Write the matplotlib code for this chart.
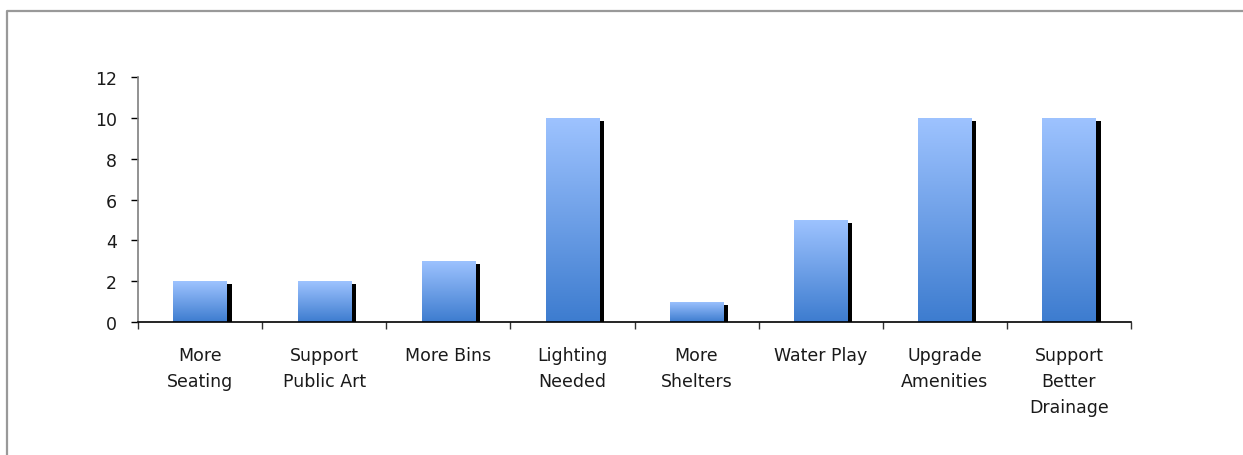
import numpy as np
import matplotlib
matplotlib.use("Agg")
import matplotlib.pyplot as plt
from matplotlib.lines import Line2D
from matplotlib.colors import LinearSegmentedColormap
import matplotlib.patheffects as pe

categories = ["More\nSeating", "Support\nPublic Art", "More Bins", "Lighting\nNeeded",
              "More\nShelters", "Water Play", "Upgrade\nAmenities", "Support\nBetter\nDrainage"]
values = [2, 2, 3, 10, 1, 5, 10, 10]
yticks = [0, 2, 4, 6, 8, 10, 12]

W, H, DPI = 1243, 456, 100
fig = plt.figure(figsize=(W / DPI, H / DPI), dpi=DPI)
fig.patch.set_facecolor("white")

# partial frame around the chart area
fig.add_artist(Line2D([6.5 / W, 6.5 / W, 1.0], [0.0, 1 - 11.5 / H, 1 - 11.5 / H],
                      transform=fig.transFigure, color="#999999", lw=1.6))

ax = fig.add_axes([138 / W, 1 - 323 / H, (1131 - 138) / W, (323 - 78) / H])
x = np.arange(len(categories))

grad_cmap = LinearSegmentedColormap.from_list("barfill", ["#3d7ccf", "#9ec3ff"])
grad = np.linspace(0, 1, 256).reshape(-1, 1)

bars = ax.bar(x, values, width=0.43, color="#6f9fe6", linewidth=0, zorder=2)
for b in bars:
    b.set_path_effects([pe.SimplePatchShadow(offset=(3.6, -2.2), shadow_rgbFace="black",
                                             alpha=1.0), pe.Normal()])
    x0, y0 = b.get_x(), b.get_y()
    im = ax.imshow(grad, cmap=grad_cmap, origin="lower", aspect="auto",
                   extent=(x0, x0 + b.get_width(), y0, y0 + b.get_height()),
                   zorder=3, interpolation="bilinear")
    im.set_clip_path(b)
ax.set_xlim(-0.5, len(categories) - 0.5)
ax.set_ylim(0, 12)

for s in ["top", "right"]:
    ax.spines[s].set_visible(False)
ax.spines["left"].set_color("#7f7f7f")
ax.spines["left"].set_linewidth(1.2)
ax.spines["bottom"].set_color("black")
ax.spines["bottom"].set_linewidth(1.2)
ax.spines["bottom"].set_zorder(5)

ax.set_yticks(yticks)
ax.tick_params(axis="y", direction="out", length=5, width=1, color="black",
               pad=10, labelsize=12.5, labelcolor="#1a1a1a")
ax.set_xticks(x)
ax.set_xticklabels(categories, linespacing=1.58)
ax.set_xticks(np.arange(-0.5, len(categories)), minor=True)
ax.tick_params(axis="x", which="major", length=0, pad=17, labelsize=12.5,
               labelcolor="#1a1a1a")
ax.tick_params(axis="x", which="minor", direction="out", length=5, width=1, color="#333333")
for lab in ax.get_xticklabels():
    lab.set_verticalalignment("top")

fig.savefig("out.png", dpi=DPI, facecolor="white")
